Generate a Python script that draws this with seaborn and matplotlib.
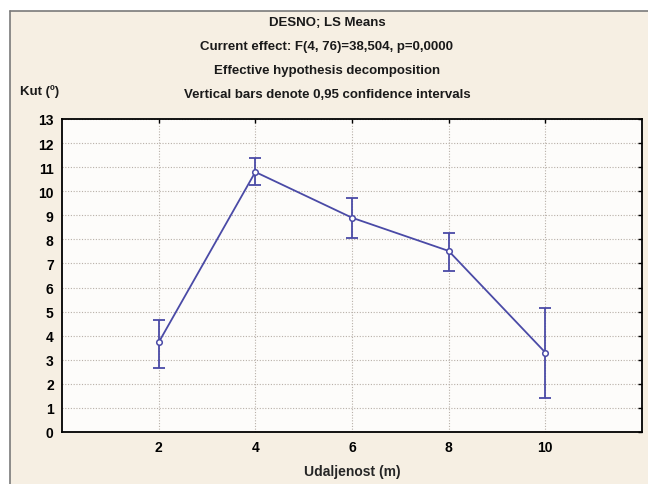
import numpy as np
import seaborn as sns
import matplotlib.pyplot as plt
import matplotlib.patches as patches

# values
udaljenost = [2, 4, 6, 8, 10]
kut_mean = [3.72, 10.8, 8.9, 7.52, 3.3]
ci_upper = [4.65, 11.37, 9.7, 8.25, 5.15]
ci_lower = [2.64, 10.25, 8.06, 6.67, 1.41]

title_lines = ["DESNO; LS Means",
               "Current effect: F(4, 76)=38,504, p=0,0000",
               "Effective hypothesis decomposition",
               "Vertical bars denote 0,95 confidence intervals"]

sns.set_style("white")
plt.rcParams['font.family'] = ['Liberation Sans', 'DejaVu Sans']

bg = '#f6efe3'
line_col = '#4a4aa6'

fig = plt.figure(figsize=(6.48, 4.85), dpi=100)
fig.patch.set_facecolor('white')
# cream panel with border on top/left
fig.patches.append(patches.Rectangle((10/648, 0), 1, 1 - 12/485, transform=fig.transFigure,
                                     facecolor=bg, edgecolor='none', zorder=-5))
fig.add_artist(plt.Line2D([10/648, 1], [1 - 12/485, 1 - 12/485], transform=fig.transFigure,
                          color='#7a7a7a', lw=1.2, zorder=-4))
fig.add_artist(plt.Line2D([10/648, 10/648], [0, 1 - 12/485], transform=fig.transFigure,
                          color='#7a7a7a', lw=1.2, zorder=-4))

ax = fig.add_axes([62/648, 1 - 433/485, 580/648, 313/485])
ax.set_zorder(2)
ax.set_facecolor('#fdfcfa')

yerr = [np.array(kut_mean) - np.array(ci_lower), np.array(ci_upper) - np.array(kut_mean)]
ax.errorbar(udaljenost, kut_mean, yerr=yerr, fmt='none', ecolor=line_col,
            elinewidth=1.3, capsize=4, capthick=1.3, zorder=3)
sns.lineplot(x=udaljenost, y=kut_mean, ax=ax, color=line_col, lw=1.3,
             marker='o', markersize=4, markerfacecolor='white',
             markeredgecolor=line_col, markeredgewidth=1.1, zorder=4)

ax.set_xlim(0, 12)
ax.set_ylim(0, 13)
ax.set_xticks(udaljenost)
ax.set_yticks(range(0, 14))
ax.grid(True, color='#b8b0a8', linestyle=(0, (1, 1.5)), lw=0.8)
ax.tick_params(direction='in', length=3, width=1, top=True, right=True,
               labelsize=10, pad=6, colors='black')
for lab in ax.get_xticklabels() + ax.get_yticklabels():
    lab.set_fontweight('bold')
for sp in ax.spines.values():
    sp.set_color('black')
    sp.set_linewidth(1.3)

ax.set_xlabel("Udaljenost (m)", fontsize=10, fontweight='bold', labelpad=7)

ys = [23, 47, 71, 95]
for t, y in zip(title_lines, ys):
    fig.text(327/648, 1 - y/485, t, ha='center', va='center', fontsize=9.5, fontweight='bold',
             color='#1a1a1a')
fig.text(20/648, 1 - 92/485, "Kut (º)", ha='left', va='center', fontsize=9.5, fontweight='bold',
         color='#1a1a1a')

fig.savefig('out.png', dpi=100, facecolor=fig.get_facecolor())
